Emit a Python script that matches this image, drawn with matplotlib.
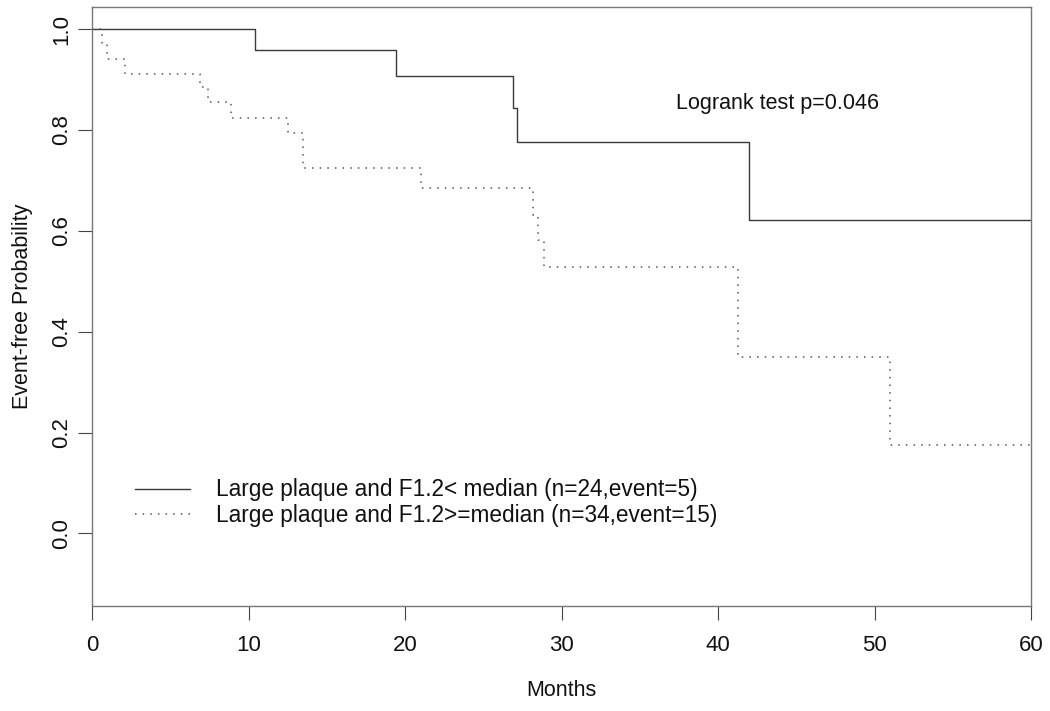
import matplotlib
matplotlib.use('Agg')
import matplotlib.pyplot as plt

# Kaplan-Meier step data
solid_times = [0, 10.4, 19.4, 26.9, 27.15, 42.0, 60]
solid_surv = [1.0, 0.958, 0.907, 0.843, 0.777, 0.622, 0.622]

dotted_times = [0, 0.64, 0.95, 2.1, 6.9, 7.4, 8.9, 12.5, 13.5, 21.0,
                28.2, 28.5, 28.9, 41.3, 51.0, 60]
dotted_surv = [1.0, 0.971, 0.941, 0.912, 0.885, 0.855, 0.823, 0.794, 0.724,
               0.685, 0.631, 0.581, 0.528, 0.349, 0.175, 0.175]

labels = ['Large plaque and F1.2< median (n=24,event=5)',
          'Large plaque and F1.2>=median (n=34,event=15)']
x_ticks = [0, 10, 20, 30, 40, 50, 60]
y_ticks = [0.0, 0.2, 0.4, 0.6, 0.8, 1.0]

plt.rcParams['font.family'] = ['Liberation Sans', 'DejaVu Sans']

fig = plt.figure(figsize=(10.5, 7.11), dpi=100)
ax = fig.add_axes([92 / 1050, 1 - 606 / 711, (1031 - 92) / 1050, (606 - 7) / 711])

line_col = '#3a3a3a'
ax.step(solid_times, solid_surv, where='post', color=line_col, lw=1.0,
        label=labels[0])
ax.step(dotted_times, dotted_surv, where='post', color='#555555', lw=1.1,
        linestyle=(0, (1, 4)), label=labels[1])

ax.set_xlim(0, 60)
ax.set_ylim(-0.144, 1.044)
ax.set_xticks(x_ticks)
ax.set_xticklabels([str(t) for t in x_ticks])
ax.set_yticks(y_ticks)
ax.set_yticklabels(['%.1f' % t for t in y_ticks], rotation=90, va='center')
ax.tick_params(direction='out', length=10, width=0.8,
               labelsize=16, color='#444444', labelcolor='#111111')
ax.tick_params(axis='x', pad=11)
ax.tick_params(axis='y', pad=4)

for s in ax.spines.values():
    s.set_color('#777777')
    s.set_linewidth(1.0)

ax.set_xlabel('Months', fontsize=15.5, color='#111111', labelpad=17)
ax.set_ylabel('Event-free Probability', fontsize=15.5, color='#111111',
              labelpad=13)

ax.text(43.8, 0.853, 'Logrank test p=0.046', fontsize=15.5,
        ha='center', va='center', color='#111111')

leg = ax.legend(loc='upper left', bbox_to_anchor=(0.036, 0.228),
                frameon=False, fontsize=16.3, handlelength=2.45,
                handletextpad=1.15, labelspacing=0.1, borderaxespad=0)
for t in leg.get_texts():
    t.set_color('#111111')

fig.savefig('out.png', dpi=100)
